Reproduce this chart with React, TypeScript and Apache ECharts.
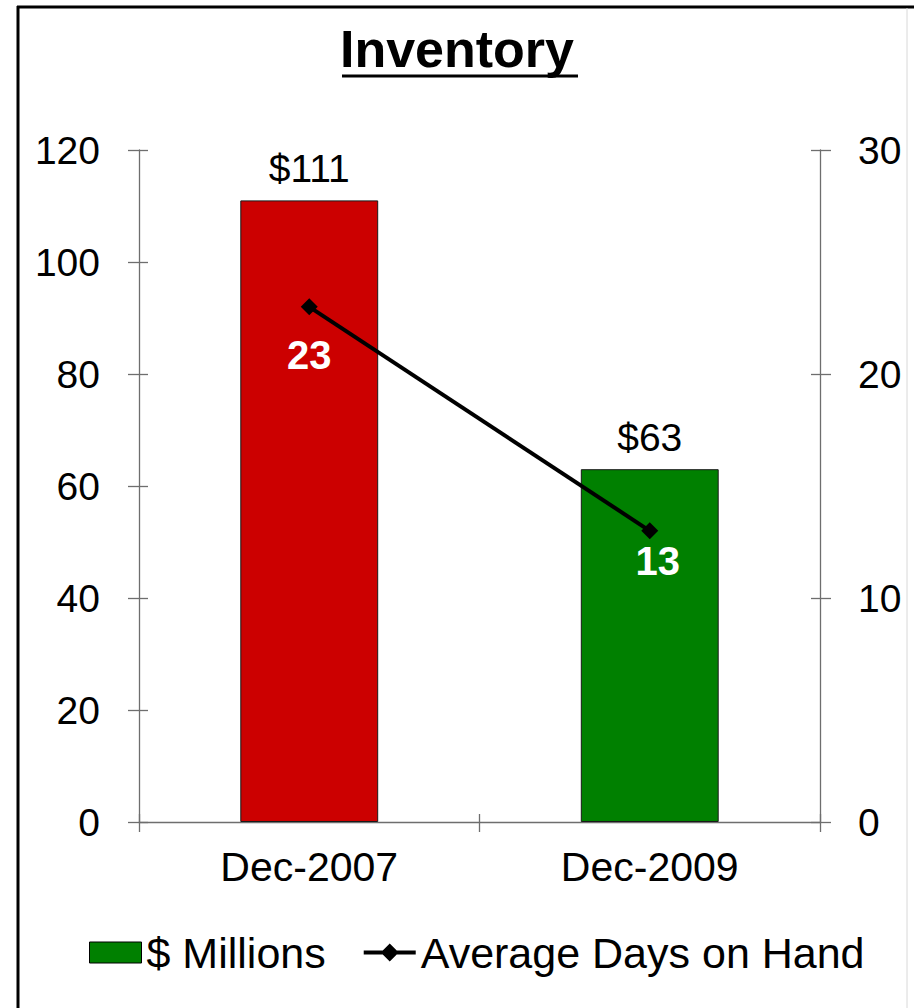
import React, { useEffect, useRef } from "react";
import * as echarts from "echarts";

// Chart data
const categories = ["Dec-2007", "Dec-2009"];
const inventoryMillions = [111, 63];
const barColors = ["#CC0000", "#008000"];
const avgDaysOnHand = [23, 13];
const leftAxisTicks = { min: 0, max: 120, interval: 20 };
const rightAxisTicks = { min: 0, max: 30, interval: 10 };

const FONT = '"Liberation Sans", Arial, Helvetica, sans-serif';
const AXIS_COLOR = "#6e6e6e";

// per-point placement of the white day-count labels
const dayLabelPlacement = [
  { distance: 20, offset: [0, 0] },
  { distance: 2, offset: [8, 0] },
];

// legend glyph for the line series: thick stroke with a diamond marker
const LINE_ICON = "path://M0,8.6L19,8.6L26,1.6L33,8.6L52,8.6L52,12.4L33,12.4L26,19.4L19,12.4L0,12.4Z";

export default function App() {
  const ref = useRef<HTMLDivElement>(null);

  useEffect(() => {
    if (!ref.current) return;
    const chart = echarts.init(ref.current, undefined, { renderer: "svg" });

    const axisLine = { show: true, lineStyle: { color: AXIS_COLOR, width: 1.3 } };
    const tickStyle = { color: AXIS_COLOR, width: 1.3 };

    const option: echarts.EChartsOption = {
      animation: false,
      backgroundColor: "#ffffff",
      textStyle: { fontFamily: FONT },
      title: {
        text: "Inventory",
        left: "center",
        top: 18,
        textStyle: { fontFamily: FONT, fontSize: 52, fontWeight: "bold", color: "#000" },
      },
      legend: {
        left: 84,
        top: 926,
        itemWidth: 52,
        itemHeight: 21,
        itemGap: 38,
        textStyle: { fontFamily: FONT, fontSize: 43, color: "#000", padding: [0, 0, 0, 0] },
        data: [
          {
            name: "$ Millions",
            icon: "rect",
            itemStyle: { color: barColors[1], borderColor: "#000", borderWidth: 1 },
          },
          {
            name: "Average Days on Hand",
            icon: LINE_ICON,
            itemStyle: { color: "#000", borderWidth: 0 },
          },
        ],
      },
      grid: { left: 139, right: 94, top: 150, bottom: 186 },
      xAxis: [
        {
          type: "category",
          data: categories,
          position: "bottom",
          axisLine,
          axisTick: { show: true, inside: false, length: 10, lineStyle: tickStyle },
          axisLabel: { fontFamily: FONT, fontSize: 41, color: "#000", margin: 24 },
        },
        {
          type: "category",
          data: categories,
          position: "bottom",
          axisLine: { show: false },
          axisTick: { show: true, inside: true, length: 8, lineStyle: tickStyle },
          axisLabel: { show: false },
        },
      ],
      yAxis: [
        {
          type: "value",
          position: "left",
          ...leftAxisTicks,
          axisLine,
          axisTick: { show: true, inside: false, length: 11, lineStyle: tickStyle },
          axisLabel: { fontFamily: FONT, fontSize: 39, color: "#000", margin: 39 },
          splitLine: { show: false },
        },
        {
          type: "value",
          position: "right",
          ...rightAxisTicks,
          axisLine,
          axisTick: { show: true, inside: false, length: 11, lineStyle: tickStyle },
          axisLabel: { fontFamily: FONT, fontSize: 39, color: "#000", margin: 38 },
          splitLine: { show: false },
        },
        {
          type: "value",
          position: "left",
          ...leftAxisTicks,
          axisLine: { show: false },
          axisTick: { show: true, inside: true, length: 9, lineStyle: tickStyle },
          axisLabel: { show: false },
          splitLine: { show: false },
        },
        {
          type: "value",
          position: "right",
          ...rightAxisTicks,
          axisLine: { show: false },
          axisTick: { show: true, inside: true, length: 9, lineStyle: tickStyle },
          axisLabel: { show: false },
          splitLine: { show: false },
        },
      ],
      series: [
        {
          name: "$ Millions",
          type: "bar",
          xAxisIndex: 0,
          yAxisIndex: 0,
          barWidth: "40.5%",
          itemStyle: { color: barColors[1], borderColor: "#1a1a1a", borderWidth: 1 },
          data: inventoryMillions.map((v, i) => ({ value: v, itemStyle: { color: barColors[i] } })),
          label: {
            show: true,
            position: "top",
            distance: 12,
            formatter: (p: any) => "$" + p.value,
            fontFamily: FONT,
            fontSize: 39,
            color: "#000",
          },
          z: 2,
        },
        {
          name: "Average Days on Hand",
          type: "line",
          xAxisIndex: 0,
          yAxisIndex: 1,
          data: avgDaysOnHand.map((v, i) => ({
            value: v,
            label: { distance: dayLabelPlacement[i].distance, offset: dayLabelPlacement[i].offset },
          })),
          symbol: "diamond",
          symbolSize: 17,
          itemStyle: { color: "#000" },
          lineStyle: { color: "#000", width: 4 },
          label: {
            show: true,
            position: "bottom",
            fontFamily: FONT,
            fontSize: 40,
            fontWeight: "bold",
            color: "#fff",
          },
          z: 3,
        },
      ],
      graphic: [
        // title underline
        { type: "line", shape: { x1: 342, y1: 76, x2: 578, y2: 76 }, style: { stroke: "#000", lineWidth: 3 } },
        // outer frame
        { type: "line", shape: { x1: 17, y1: 7, x2: 914, y2: 7 }, style: { stroke: "#000", lineWidth: 3 } },
        { type: "line", shape: { x1: 18, y1: 6, x2: 18, y2: 1008 }, style: { stroke: "#000", lineWidth: 3 } },
        { type: "line", shape: { x1: 907, y1: 8, x2: 907, y2: 1008 }, style: { stroke: "#d8d8d8", lineWidth: 1 } },
      ],
    };

    chart.setOption(option);
    return () => chart.dispose();
  }, []);

  return (
    <div
      ref={ref}
      style={{ position: "fixed", left: 0, top: 0, width: 914, height: 1008, background: "#fff" }}
    />
  );
}
